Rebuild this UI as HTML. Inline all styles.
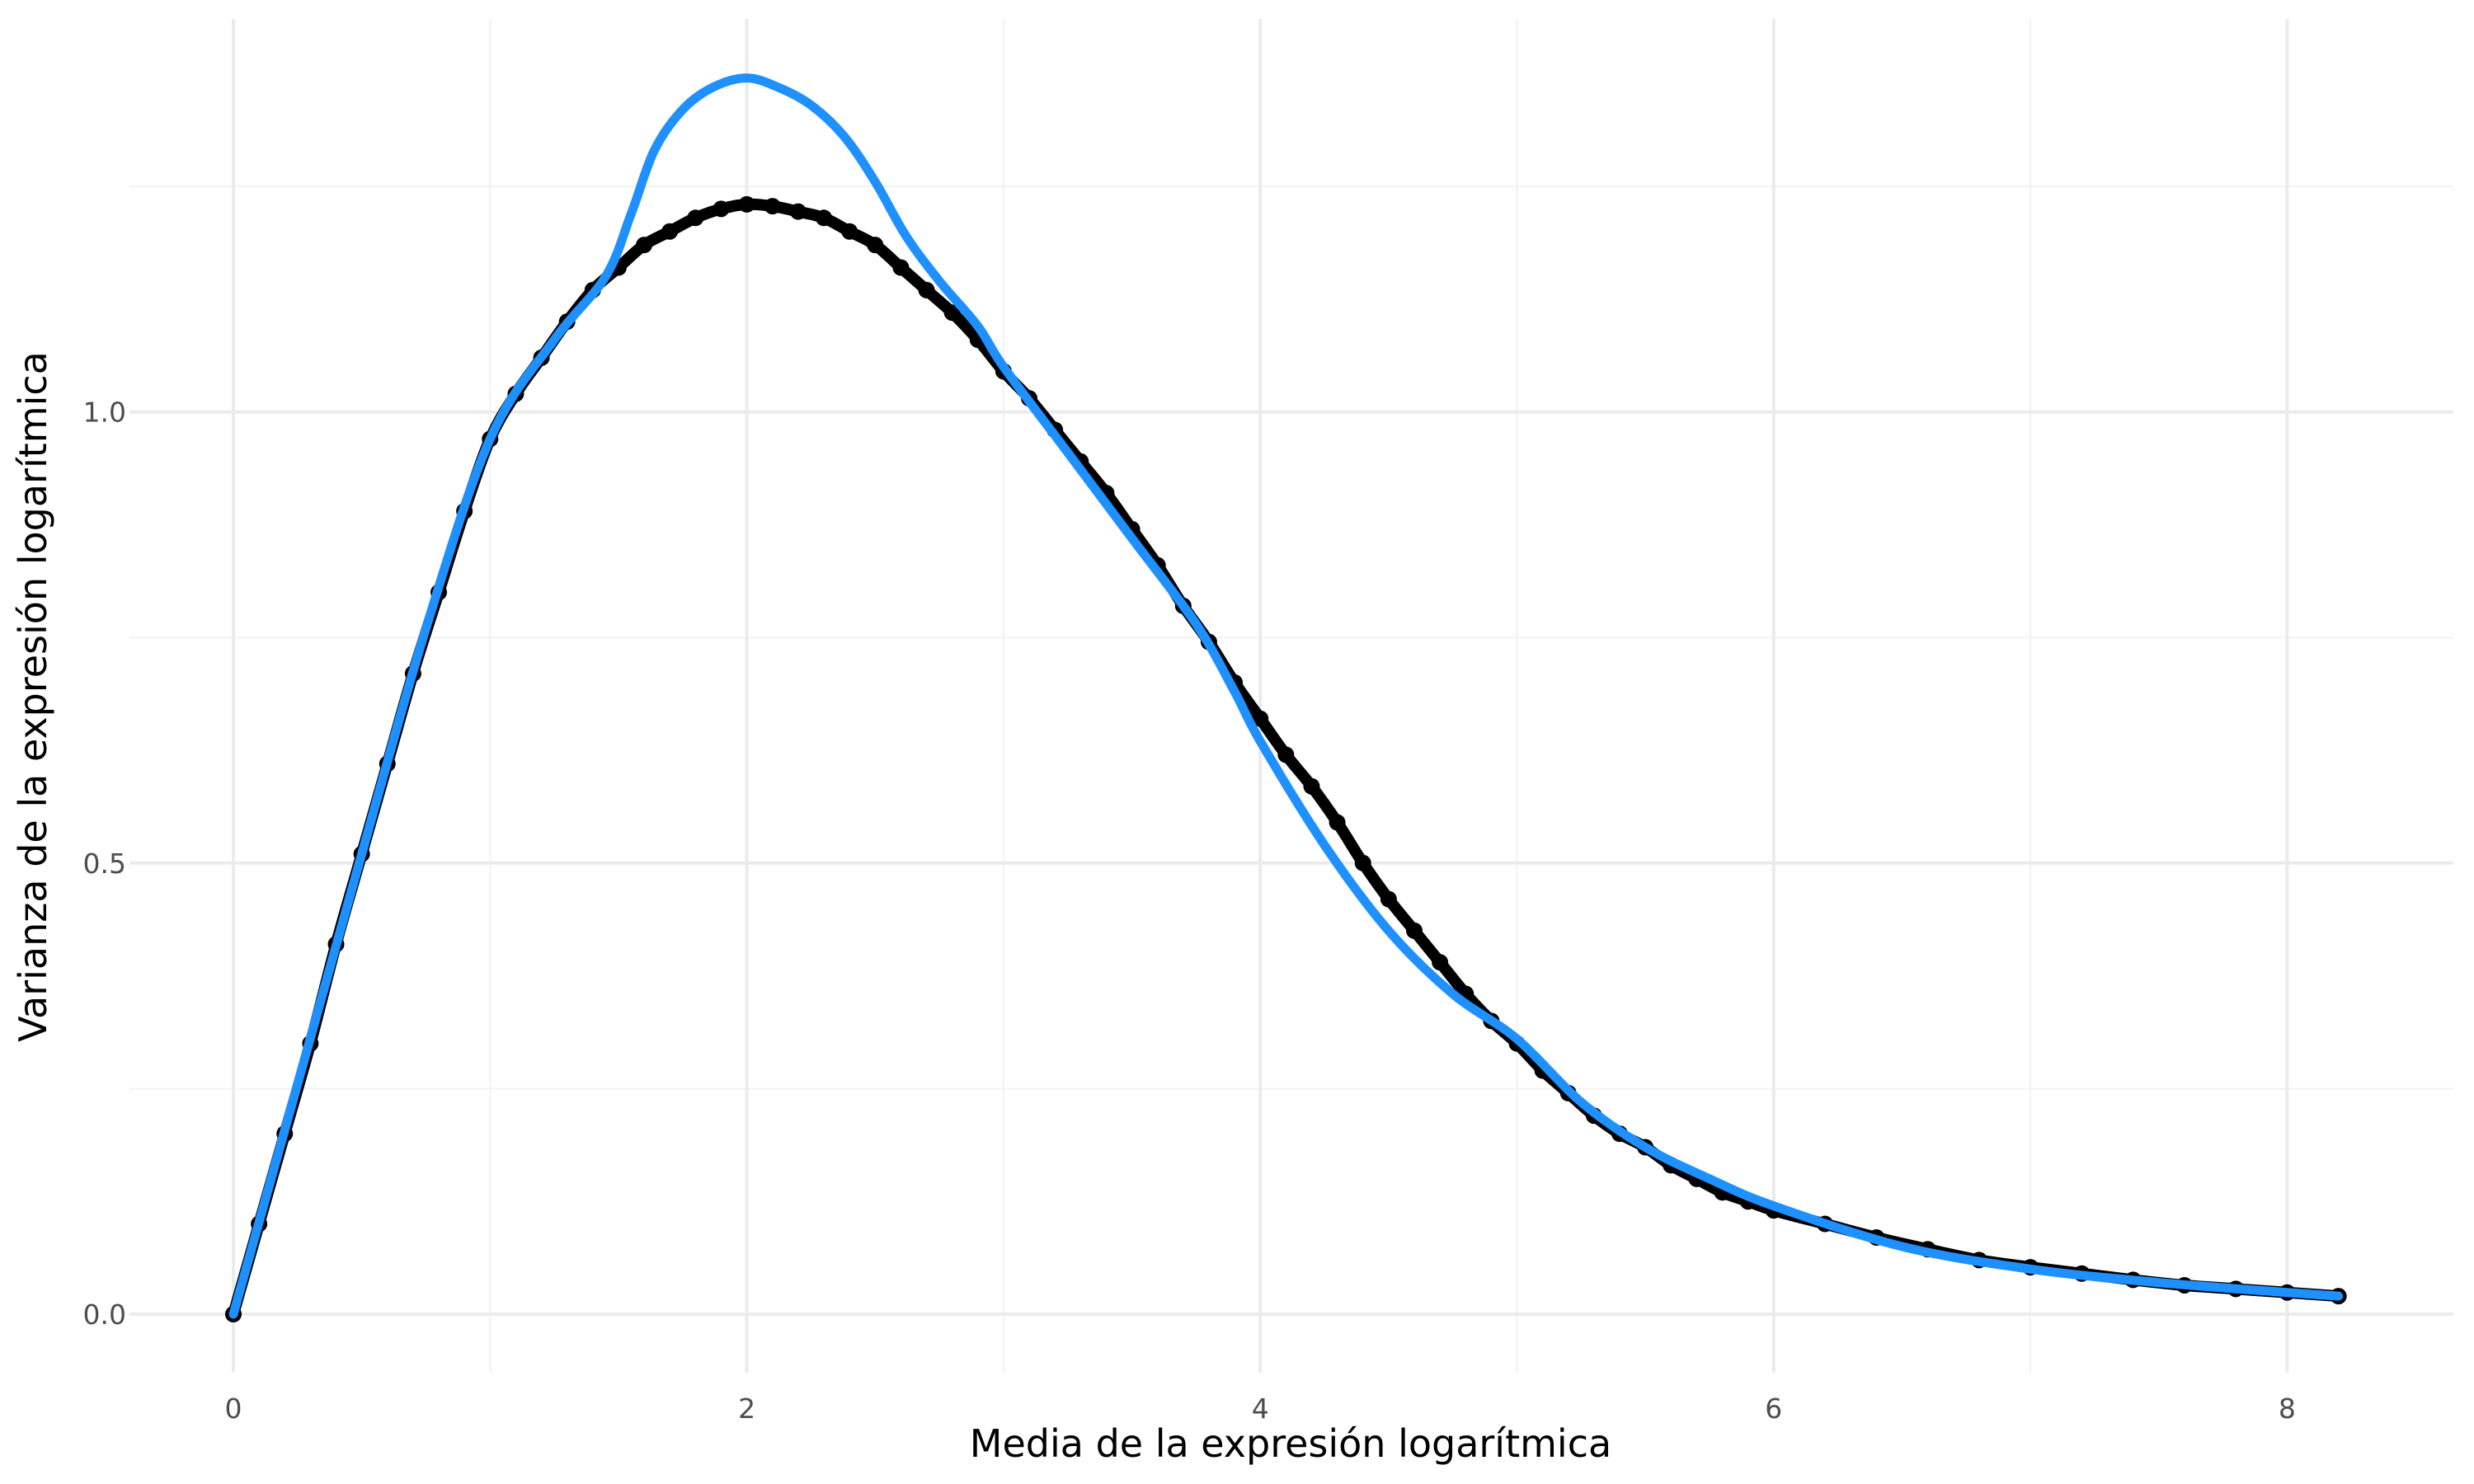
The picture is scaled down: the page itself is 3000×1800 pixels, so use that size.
<!DOCTYPE html>
<html><head><meta charset="utf-8"><style>
html,body{margin:0;padding:0;background:#fff;}
svg{display:block;font-family:"DejaVu Sans","Liberation Sans",sans-serif;}
</style></head><body>
<svg id="chart" width="3000" height="1800" viewBox="0 0 3000 1800" xmlns="http://www.w3.org/2000/svg">
<g id="grid"></g>
<g id="marks"></g>
<g id="axes"></g>
<text x="1565" y="1767" font-size="46" text-anchor="middle" fill="#000">Media de la expresión logarítmica</text>
<text x="0" y="0" transform="translate(56,845) rotate(-90)" font-size="46" text-anchor="middle" fill="#000">Varianza de la expresión logarítmica</text>
</svg>
<script>
const pointX=[0,0.1,0.2,0.3,0.4,0.5,0.6,0.7,0.8,0.9,1.0,1.1,1.2,1.3,1.4,1.5,1.6,1.7,1.8,1.9,2.0,2.1,2.2,2.3,2.4,2.5,2.6,2.7,2.8,2.9,3.0,3.1,3.2,3.3,3.4,3.5,3.6,3.7,3.8,3.9,4.0,4.1,4.2,4.3,4.4,4.5,4.6,4.7,4.8,4.9,5.0,5.1,5.2,5.3,5.4,5.5,5.6,5.7,5.8,5.9,6.0,6.2,6.4,6.6,6.8,7.0,7.2,7.4,7.6,7.8,8.0,8.2];
const pointY=[0,0.1,0.2,0.3,0.41,0.51,0.61,0.71,0.8,0.89,0.97,1.02,1.06,1.1,1.135,1.16,1.185,1.2,1.215,1.225,1.23,1.228,1.222,1.215,1.2,1.185,1.16,1.135,1.11,1.08,1.045,1.015,0.98,0.945,0.91,0.87,0.83,0.785,0.745,0.7,0.66,0.62,0.585,0.545,0.5,0.46,0.425,0.39,0.355,0.325,0.3,0.27,0.245,0.22,0.2,0.185,0.165,0.15,0.135,0.125,0.115,0.1,0.085,0.072,0.06,0.052,0.045,0.038,0.032,0.028,0.024,0.02];
const fitX=[0,0.25,0.5,0.75,1.0,1.25,1.45,1.55,1.64,1.75,1.87,2.0,2.12,2.25,2.38,2.5,2.62,2.75,2.9,3.0,3.25,3.5,3.75,3.9,4.0,4.25,4.5,4.75,5.0,5.25,5.5,5.75,6.0,6.5,7.0,7.5,8.0,8.2];
const fitY=[0,0.255,0.51,0.76,0.97,1.08,1.15,1.22,1.29,1.335,1.36,1.37,1.36,1.34,1.305,1.255,1.195,1.145,1.095,1.05,0.955,0.86,0.765,0.69,0.635,0.52,0.425,0.355,0.305,0.235,0.185,0.15,0.12,0.075,0.05,0.035,0.024,0.02];
const xTicks=[0,2,4,6,8];
const xMinor=[1,3,5,7];
const yTicks=[0,0.5,1.0];
const yMinor=[0.25,0.75,1.25];
const yTickLabels=["0.0","0.5","1.0"];

const NS="http://www.w3.org/2000/svg";
const X=v=>283+311.3*v;
const Y=v=>1594-1094.4*v;
const L=157,R=2975,T=23,B=1665;
const grid=document.getElementById('grid'),marks=document.getElementById('marks'),axes=document.getElementById('axes');
function mk(tag,attrs,parent){const e=document.createElementNS(NS,tag);for(const k in attrs)e.setAttribute(k,attrs[k]);parent.appendChild(e);return e;}
function smooth(xs,ys){const p=xs.map((x,i)=>[X(x),Y(ys[i])]);let d='M'+p[0][0]+','+p[0][1];
for(let i=0;i<p.length-1;i++){const p0=p[Math.max(0,i-1)],p1=p[i],p2=p[i+1],p3=p[Math.min(p.length-1,i+2)];
const c1=[p1[0]+(p2[0]-p0[0])/6,p1[1]+(p2[1]-p0[1])/6],c2=[p2[0]-(p3[0]-p1[0])/6,p2[1]-(p3[1]-p1[1])/6];
d+='C'+c1[0]+','+c1[1]+' '+c2[0]+','+c2[1]+' '+p2[0]+','+p2[1];}return d;}
xMinor.forEach(v=>{const l=mk('line',{x1:X(v),x2:X(v),y1:T,y2:B,stroke:'#f2f2f2','stroke-width':2},grid);

});
yMinor.forEach(v=>{const l=mk('line',{x1:L,x2:R,y1:Y(v),y2:Y(v),stroke:'#f2f2f2','stroke-width':2},grid);

});
xTicks.forEach(v=>{const l=mk('line',{x1:X(v),x2:X(v),y1:T,y2:B,stroke:'#ebebeb','stroke-width':4},grid);


const t=mk('text',{x:X(v),y:1720,'font-size':33,'text-anchor':'middle',fill:'#4d4d4d'},axes);t.textContent=v;

});
yTicks.forEach((v,i)=>{const l=mk('line',{x1:L,x2:R,y1:Y(v),y2:Y(v),stroke:'#ebebeb','stroke-width':4},grid);


const t=mk('text',{x:153,y:Y(v)+12,'font-size':33,'text-anchor':'end',fill:'#4d4d4d'},axes);t.textContent=yTickLabels[i];

});
const bl=mk('path',{d:smooth(pointX,pointY),fill:'none',stroke:'#000','stroke-width':14,'stroke-linejoin':'round'},marks);


pointX.forEach((x,i)=>{const c=mk('circle',{cx:X(x),cy:Y(pointY[i]),r:10,fill:'#000'},marks);

});
const fl=mk('path',{d:smooth(fitX,fitY),fill:'none',stroke:'#1E90FF','stroke-width':11,'stroke-linejoin':'round','stroke-linecap':'round'},marks);


</script>
</body></html>
